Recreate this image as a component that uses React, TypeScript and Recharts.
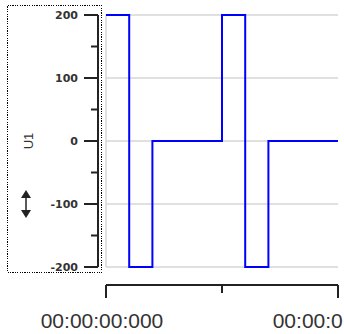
import React from "react";
import { LineChart, Line, XAxis, YAxis, CartesianGrid } from "recharts";

// time in seconds, value of U1
const times = [0, 0.1, 0.2, 0.5, 0.6, 0.7, 1.0];
const values = [200, -200, 0, 200, -200, 0, 0];
const yTicks = [-200, -150, -100, -50, 0, 50, 100, 150, 200];
const gridTicks = [-200, -100, 0, 100, 200];
const xTicks = [0, 0.5, 1];
const xLabels = ["00:00:00:000", "", "00:00:01:000"];

const data = times.map((t, i) => ({ t, v: values[i] }));

const axisColor = "#222";

function YTick(props: any) {
  const { x, y, payload } = props;
  const major = payload.value % 100 === 0;
  const len = major ? 14 : 7;
  return (
    <g>
      <line x1={x - len} x2={x} y1={y} y2={y} stroke={axisColor} strokeWidth={2} />
      {major && (
        <text
          x={x - 20}
          y={y}
          dy="0.35em"
          textAnchor="end"
          fontSize={11}
          fontWeight="bold"
          fontFamily="DejaVu Sans, Verdana, sans-serif"
          fill="#333"
        >
          {payload.value}
        </text>
      )}
    </g>
  );
}

function XTick(props: any) {
  const { x, y, index } = props;
  const label = xLabels[index] ?? "";
  const len = label ? 13 : 8;
  return (
    <g>
      <line x1={x} x2={x} y1={y} y2={y + len} stroke={axisColor} strokeWidth={2} />
      {label && (
        <text
          x={x - 4}
          y={y + 43}
          textAnchor="middle"
          fontSize={21}
          fontFamily="Liberation Sans, Arial, sans-serif"
          fill="#333"
        >
          {label}
        </text>
      )}
    </g>
  );
}

export default function App() {
  return (
    <div
      style={{
        position: "fixed",
        left: 0,
        top: 0,
        width: 344,
        height: 334,
        overflow: "hidden",
        background: "#fff",
      }}
    >
      <LineChart width={360} height={334} data={data} margin={{ top: 15, right: 22, bottom: 0, left: 0 }}>
        <CartesianGrid
          xAxisId="b"
          yAxisId="b"
          stroke="#d6d6d6"
          strokeWidth={1.5}
          horizontalValues={gridTicks}
          verticalValues={[0]}
        />
        <XAxis
          xAxisId="b"
          dataKey="t"
          type="number"
          domain={[0, 1]}
          ticks={xTicks}
          height={49}
          axisLine={{ stroke: axisColor, strokeWidth: 2 }}
          tickLine={false}
          tickSize={0}
          tickMargin={0}
          tick={<XTick />}
          interval={0}
        />
        <XAxis
          xAxisId="a"
          dataKey="t"
          type="number"
          domain={[0, 1]}
          ticks={[0]}
          height={18}
          axisLine={false}
          tickLine={false}
          tick={false}
        />
        <YAxis
          yAxisId="b"
          dataKey="v"
          type="number"
          domain={[-200, 200]}
          ticks={yTicks}
          width={98}
          axisLine={{ stroke: axisColor, strokeWidth: 2 }}
          tickLine={false}
          tickSize={0}
          tickMargin={0}
          tick={<YTick />}
          interval={0}
        />
        <YAxis
          yAxisId="a"
          dataKey="v"
          type="number"
          domain={[-200, 200]}
          ticks={gridTicks}
          width={8}
          axisLine={false}
          tickLine={false}
          tick={false}
        />
        <Line
          xAxisId="a"
          yAxisId="a"
          type="stepAfter"
          dataKey="v"
          stroke="#0000ff"
          strokeWidth={2}
          dot={false}
          isAnimationActive={false}
        />
      </LineChart>
      <svg
        width={110}
        height={280}
        style={{ position: "absolute", left: 0, top: 0, pointerEvents: "none" }}
      >
        <rect
          x={7.5}
          y={5.5}
          width={94}
          height={267}
          fill="none"
          stroke="#000"
          strokeWidth={1.2}
          strokeDasharray="1.2 1.2"
          shapeRendering="crispEdges"
        />
        <text
          x={28}
          y={141}
          transform="rotate(-90 28 141)"
          textAnchor="middle"
          dy="0.35em"
          fontSize={13}
          fontFamily="Liberation Sans, Arial, sans-serif"
          fill="#333"
        >
          U1
        </text>
        <line x1={26} x2={26} y1={194} y2={214} stroke="#222" strokeWidth={1.5} />
        <polygon points="21,198 31,198 26,190" fill="#222" />
        <polygon points="21,210 31,210 26,218" fill="#222" />
      </svg>
    </div>
  );
}
